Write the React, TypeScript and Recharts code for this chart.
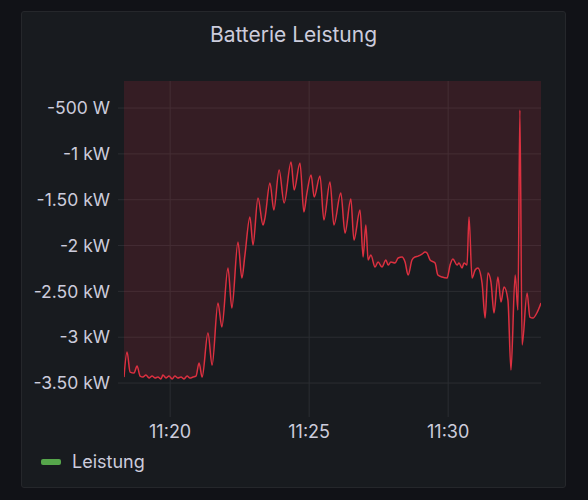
import React from "react";
import { AreaChart, Area, XAxis, YAxis, CartesianGrid } from "recharts";

// minutes after 11:00
const times = [
  18.34, 18.45, 18.56, 18.7, 18.81, 18.92, 19.02, 19.13, 19.24, 19.35, 19.46, 19.56, 19.67, 19.74, 19.85,
  19.96, 20.07, 20.17, 20.28, 20.39, 20.5, 20.61, 20.71, 20.82, 20.93, 21.04, 21.15, 21.36, 21.51, 21.72,
  21.86, 22.08, 22.22, 22.44, 22.58, 22.69, 22.87, 22.98, 23.16, 23.34, 23.41, 23.59, 23.73, 23.92, 24.1,
  24.35, 24.46, 24.67, 24.81, 24.92, 25.07, 25.18, 25.39, 25.53, 25.75, 25.89, 26.14, 26.29, 26.5, 26.61,
  26.83, 26.94, 27.04, 27.12, 27.22, 27.37, 27.48, 27.62, 27.76, 27.84, 27.94, 28.09, 28.2, 28.34, 28.45,
  28.56, 28.7, 28.81, 28.92, 29.06, 29.17, 29.24, 29.35, 29.53, 29.63, 29.78, 29.96, 30.07, 30.17, 30.32,
  30.39, 30.5, 30.57, 30.68, 30.75, 30.86, 30.97, 31.07, 31.22, 31.33, 31.43, 31.54, 31.65, 31.79, 31.9,
  32.01, 32.15, 32.26, 32.41, 32.51, 32.58, 32.66, 32.84, 32.94, 33.05, 33.19, 33.34,
];

// Leistung in W
const leistung = [
  -3435, -3162, -3380, -3391, -3315, -3424, -3435, -3413, -3445, -3424, -3445, -3435, -3456, -3413, -3445,
  -3424, -3456, -3424, -3445, -3435, -3456, -3424, -3445, -3435, -3424, -3282, -3435, -2955, -3304, -2627,
  -2889, -2245, -2682, -1962, -2355, -2104, -1689, -1995, -1482, -1776, -1700, -1318, -1613, -1176, -1536,
  -1089, -1395, -1100, -1635, -1427, -1231, -1471, -1242, -1722, -1307, -1776, -1427, -1864, -1493, -1940,
  -1613, -2125, -1776, -2158, -2104, -2235, -2180, -2235, -2158, -2213, -2180, -2191, -2136, -2125, -2180,
  -2322, -2158, -2125, -2115, -2093, -2071, -2082, -2158, -2191, -2322, -2344, -2355, -2213, -2147, -2213,
  -2191, -2245, -2191, -2213, -1689, -2355, -2267, -2245, -2409, -2791, -2300, -2398, -2736, -2344, -2616,
  -2453, -2595, -3358, -2322, -2704, -522, -3085, -2518, -2780, -2791, -2736, -2627,
];

const xTicks = [20, 25, 30];
const xTickLabels = ["11:20", "11:25", "11:30"];
const yTicks = [-3500, -3000, -2500, -2000, -1500, -1000, -500];
const yTickLabels = ["-3.50 kW", "-3 kW", "-2.50 kW", "-2 kW", "-1.50 kW", "-1 kW", "-500 W"];

const title = "Batterie Leistung";
const seriesName = "Leistung";

const data = times.map((t, i) => ({ t, v: leistung[i] }));

const FONT = "Inter, 'Noto Sans', sans-serif";
const TEXT = "#ccccdc";
const GRID = "#2b2d32";
const RED = "#dc3040";

export default function App() {
  return (
    <div style={{ position: "fixed", left: 0, top: 0, width: 588, height: 500, background: "#111217", fontFamily: FONT }}>
      <div
        style={{
          position: "absolute",
          left: 21,
          top: 11,
          width: 543,
          height: 475,
          background: "#181b1f",
          border: "1px solid #25272b",
          borderRadius: 3,
        }}
      />
      <div
        style={{
          position: "absolute",
          left: 21,
          width: 545,
          top: 20,
          textAlign: "center",
          color: TEXT,
          fontSize: 21,
          lineHeight: "30px",
        }}
      >
        {title}
      </div>
      <div style={{ position: "absolute", left: 0, top: 0 }}>
        <AreaChart width={588} height={500} data={data} margin={{ top: 81, right: 47, bottom: 59, left: 0 }}>
          <CartesianGrid stroke={GRID} strokeWidth={1} syncWithTicks />
          <XAxis
            dataKey="t"
            type="number"
            domain={[18.34, 33.34]}
            ticks={xTicks}
            tickFormatter={(v: number) => xTickLabels[xTicks.indexOf(v)]}
            axisLine={false}
            tickLine={{ stroke: GRID }}
            tickSize={6}
            tickMargin={8}
            height={30}
            tick={{ fill: TEXT, fontSize: 18, fontFamily: FONT }}
            allowDataOverflow
          />
          <YAxis
            type="number"
            domain={[-3805, -205]}
            ticks={yTicks}
            tickFormatter={(v: number) => yTickLabels[yTicks.indexOf(v)]}
            axisLine={false}
            tickLine={{ stroke: GRID }}
            tickSize={6}
            tickMargin={8}
            width={124}
            tick={{ fill: TEXT, fontSize: 17.5, fontFamily: FONT }}
            allowDataOverflow
          />
          <Area
            dataKey="v"
            type="monotone"
            stroke={RED}
            strokeWidth={1.5}
            fill={RED}
            fillOpacity={0.15}
            isAnimationActive={false}
            dot={false}
            activeDot={false}
          />
        </AreaChart>
      </div>
      <div style={{ position: "absolute", left: 41, top: 449, display: "flex", alignItems: "center", color: TEXT, fontSize: 18, lineHeight: "26px" }}>
        <span style={{ display: "inline-block", width: 20, height: 6, borderRadius: 2, background: "#56a64b", marginRight: 11 }} />
        <span>{seriesName}</span>
      </div>
    </div>
  );
}
